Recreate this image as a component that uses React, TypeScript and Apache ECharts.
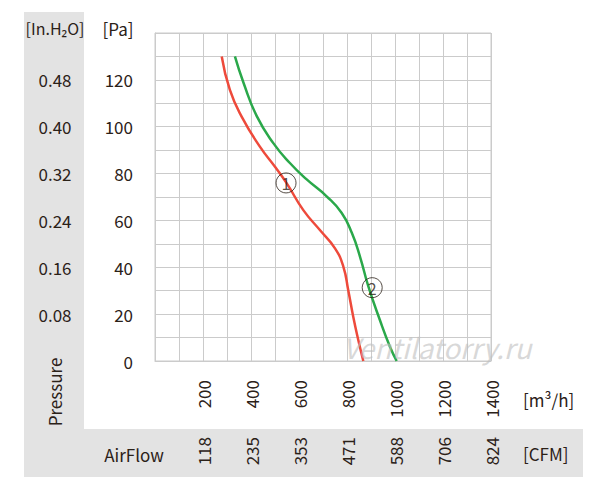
import React, { useEffect, useRef } from "react";
import * as echarts from "echarts";

const redFlow = [278, 312, 361, 437, 500, 549, 618, 687, 750, 785, 805, 826, 847, 868];
const redPressure = [130, 115.7, 104.3, 91.5, 82.9, 75.8, 64.4, 55.9, 48.1, 40.2, 30.3, 18.9, 9, 0];
const greenFlow = [333, 368, 424, 493, 562, 632, 715, 778, 820, 854, 889, 937, 979, 1007];
const greenPressure = [130, 119, 104.5, 93, 84.5, 77.5, 70.3, 63.2, 54.7, 44.6, 31.8, 17.5, 6.1, 0];

const markerFlow = [546, 905];
const markerPressure = [76, 31.3];
const markerLabels = ["1", "2"];

const paTicks = [0, 20, 40, 60, 80, 100, 120];
const inchTicks = [20, 40, 60, 80, 100, 120];
const inchLabels = ["0.08", "0.16", "0.24", "0.32", "0.40", "0.48"];
const flowTicks = [200, 400, 600, 800, 1000, 1200, 1400];
const cfmLabels = ["118", "235", "353", "471", "588", "706", "824"];

const FONT = "'Noto Sans CJK SC', 'Noto Sans', sans-serif";
const TXT = "#2b2118";
const GRID = "#cbcbcb";
const PANEL = "#e3e3e3";

export default function App() {
  const ref = useRef<HTMLDivElement>(null);
  useEffect(() => {
    if (!ref.current) return;
    const chart = echarts.init(ref.current, undefined, { renderer: "svg" });
    const labelStyle = { fontFamily: FONT, fontSize: 17, color: TXT };
    chart.setOption({
      animation: false,
      backgroundColor: "#ffffff",
      textStyle: { fontFamily: FONT },
      graphic: [
        { type: "rect", z: -10, shape: { x: 24, y: 12, width: 60, height: 465 }, style: { fill: PANEL } },
        { type: "rect", z: -10, shape: { x: 24, y: 429, width: 559, height: 48 }, style: { fill: PANEL } },
        { type: "text", x: 55, y: 28, style: { text: "[In.H₂O]", fontFamily: FONT, fontSize: 16, fill: TXT, align: "center", verticalAlign: "middle" } },
        { type: "text", x: 118, y: 28, style: { text: "[Pa]", fontFamily: FONT, fontSize: 17, fill: TXT, align: "center", verticalAlign: "middle" } },
        { type: "text", x: 54, y: 392, rotation: Math.PI / 2, style: { text: "Pressure", fontFamily: FONT, fontSize: 17, fill: TXT, align: "center", verticalAlign: "middle" } },
        { type: "text", x: 134, y: 454, style: { text: "AirFlow", fontFamily: FONT, fontSize: 17, fill: TXT, align: "center", verticalAlign: "middle" } },
        { type: "text", x: 523, y: 399, style: { text: "[m³/h]", fontFamily: FONT, fontSize: 17, fill: TXT, align: "left", verticalAlign: "middle" } },
        { type: "text", x: 523, y: 453, style: { text: "[CFM]", fontFamily: FONT, fontSize: 17, fill: TXT, align: "left", verticalAlign: "middle" } },
        { type: "text", x: 343, y: 347, z: 100, style: { text: "Ventilatorry.ru", fontFamily: FONT, fontStyle: "italic", fontSize: 28, fill: "rgba(190,190,190,0.6)", align: "left", verticalAlign: "middle" } },
      ],
      grid: { left: 155, top: 33, width: 336, height: 328, show: true, borderColor: GRID, borderWidth: 1, containLabel: false },
      xAxis: [
        {
          type: "value", min: 0, max: 1400, interval: 100,
          axisLine: { show: true, lineStyle: { color: GRID } },
          axisTick: { show: false },
          splitLine: { show: true, lineStyle: { color: GRID, width: 1 } },
          axisLabel: {
            ...labelStyle, rotate: 90, margin: 19,
            formatter: (v: number) => (flowTicks.includes(v) ? String(v) : ""),
          },
        },
        {
          type: "value", min: 0, max: 1400, interval: 100, position: "bottom", offset: 57,
          axisLine: { show: false }, axisTick: { show: false }, splitLine: { show: false },
          axisLabel: {
            ...labelStyle, rotate: 90, margin: 19,
            formatter: (v: number) => {
              const i = flowTicks.indexOf(v);
              return i >= 0 ? cfmLabels[i] : "";
            },
          },
        },
      ],
      yAxis: [
        {
          type: "value", min: 0, max: 140, interval: 10, position: "left",
          axisLine: { show: true, lineStyle: { color: GRID } },
          axisTick: { show: false },
          splitLine: { show: true, lineStyle: { color: GRID, width: 1 } },
          axisLabel: {
            ...labelStyle, margin: 22, align: "right",
            formatter: (v: number) => (paTicks.includes(v) ? String(v) : ""),
          },
        },
        {
          type: "value", min: 0, max: 140, interval: 10, position: "left",
          axisLine: { show: false }, axisTick: { show: false }, splitLine: { show: false },
          axisLabel: {
            ...labelStyle, margin: 100, align: "center",
            formatter: (v: number) => {
              const i = inchTicks.indexOf(v);
              return i >= 0 ? inchLabels[i] : "";
            },
          },
        },
      ],
      series: [
        {
          type: "line", xAxisIndex: 0, yAxisIndex: 0, smooth: true, showSymbol: false,
          lineStyle: { color: "#ee4a3b", width: 2.5 },
          data: redFlow.map((q, i) => [q, redPressure[i]]),
        },
        {
          type: "line", xAxisIndex: 0, yAxisIndex: 0, smooth: true, showSymbol: false,
          lineStyle: { color: "#2aa84a", width: 2.5 },
          data: greenFlow.map((q, i) => [q, greenPressure[i]]),
        },
        {
          type: "scatter", xAxisIndex: 0, yAxisIndex: 0, z: 5,
          symbol: "circle", symbolSize: 20,
          itemStyle: { color: "rgba(0,0,0,0)", borderColor: TXT, borderWidth: 1 },
          label: { show: true, position: "inside", fontFamily: FONT, fontSize: 16, color: TXT, formatter: (p: any) => markerLabels[p.dataIndex] },
          data: markerFlow.map((q, i) => [q, markerPressure[i]]),
        },
      ],
    });
    return () => chart.dispose();
  }, []);
  return <div ref={ref} style={{ position: "absolute", left: 0, top: 0, width: 600, height: 494 }} />;
}
